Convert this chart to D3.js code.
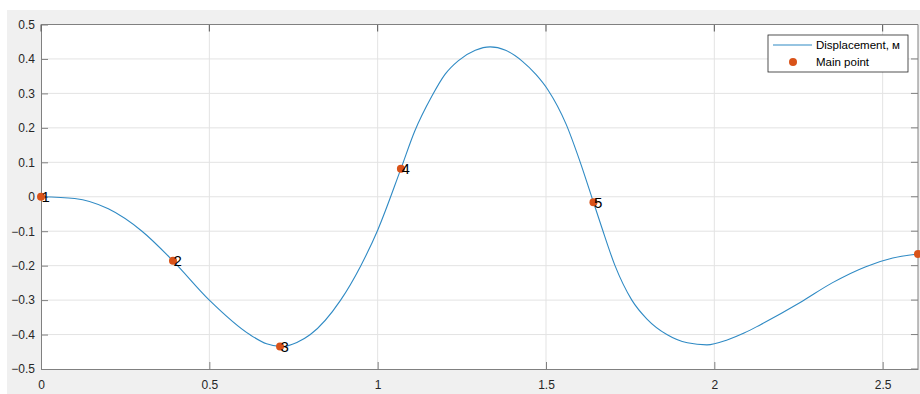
<!DOCTYPE html>
<html>
<head>
<meta charset="utf-8">
<script src="https://cdn.jsdelivr.net/npm/d3@7"></script>
<style>
  body { margin: 0; background: #fff; }
  svg { display: block; font-family: "Liberation Sans", Arial, sans-serif; }
</style>
</head>
<body>
<div id="chart"></div>
<script>
// displacement curve
const curveT = [0, 0.1, 0.2, 0.3, 0.392, 0.5, 0.62, 0.67, 0.715, 0.76, 0.8, 0.89, 0.95, 1.0, 1.069,
  1.11, 1.16, 1.2, 1.24, 1.29, 1.334, 1.38, 1.43, 1.47, 1.506, 1.56, 1.6, 1.641, 1.666, 1.705, 1.755,
  1.8, 1.859, 1.92, 1.978, 2.04, 2.09, 2.136, 2.255, 2.35, 2.45, 2.53, 2.605];
const curveV = [0, -0.005, -0.035, -0.1, -0.186, -0.3, -0.4, -0.427, -0.435, -0.423, -0.4, -0.3, -0.2,
  -0.097, 0.081, 0.19, 0.29, 0.355, 0.395, 0.425, 0.435, 0.425, 0.393, 0.355, 0.31, 0.21, 0.105,
  -0.016, -0.09, -0.2, -0.3, -0.355, -0.4, -0.424, -0.43, -0.415, -0.395, -0.372, -0.307, -0.25,
  -0.203, -0.178, -0.166];

// main points
const pointT = [0, 0.392, 0.71, 1.069, 1.641, 2.605];
const pointV = [0, -0.186, -0.435, 0.081, -0.016, -0.166];
const pointLabels = ['1', '2', '3', '4', '5', ''];

const xTicks = [0, 0.5, 1, 1.5, 2, 2.5];
const yTicks = [-0.5, -0.4, -0.3, -0.2, -0.1, 0, 0.1, 0.2, 0.3, 0.4, 0.5];
const legendLabels = ['Displacement, м', 'Main point'];

const width = 920;
const height = 394;
const margin = { top: 24.5, right: 2, bottom: 25, left: 41 };
const blue = '#2f8ac4';
const orange = '#d95319';

const svg = d3.select('#chart').append('svg')
  .attr('width', width)
  .attr('height', height);

// figure background
svg.append('rect')
  .attr('x', 7).attr('y', 10)
  .attr('width', width - 7).attr('height', height - 10)
  .attr('fill', '#f0f0f0');

const x = d3.scaleLinear().domain([0, 2.605]).range([margin.left, width - margin.right]);
const y = d3.scaleLinear().domain([-0.5, 0.5]).range([height - margin.bottom, margin.top]);

const [x0, x1] = x.range();
const [y0, y1] = y.range();

svg.append('rect')
  .attr('x', x0).attr('y', y1)
  .attr('width', x1 - x0).attr('height', y0 - y1)
  .attr('fill', '#fff');

// grid
svg.append('g').selectAll('line').data(xTicks.slice(1))
  .enter().append('line')
  .attr('x1', d => x(d)).attr('x2', d => x(d))
  .attr('y1', y1).attr('y2', y0)
  .attr('stroke', '#e3e3e3');

svg.append('g').selectAll('line').data(yTicks.slice(1, -1))
  .enter().append('line')
  .attr('x1', x0).attr('x2', x1)
  .attr('y1', d => y(d)).attr('y2', d => y(d))
  .attr('stroke', '#e3e3e3');

// axes (ticks point inward like matlab)
const axisColor = '#808080';
const tickLen = 7;

const bottom = svg.append('g')
  .attr('transform', `translate(0,${y0})`)
  .call(d3.axisBottom(x).tickValues(xTicks).tickFormat(d3.format('')).tickSizeInner(-tickLen).tickSizeOuter(0).tickPadding(11));
const left = svg.append('g')
  .attr('transform', `translate(${x0},0)`)
  .call(d3.axisLeft(y).tickValues(yTicks).tickFormat(d3.format('')).tickSizeInner(-tickLen).tickSizeOuter(0).tickPadding(6));

[bottom, left].forEach(g => {
  g.select('.domain').attr('stroke', axisColor);
  g.selectAll('.tick line').attr('stroke', axisColor);
  g.selectAll('.tick text').attr('fill', '#262626').style('font-size', '12px')
    .style('font-family', '"Liberation Sans", Arial, sans-serif');
});

// top and right ticks
svg.append('g').selectAll('line').data(xTicks)
  .enter().append('line')
  .attr('x1', d => x(d)).attr('x2', d => x(d))
  .attr('y1', y1).attr('y2', y1 + tickLen)
  .attr('stroke', '#555');
svg.append('g').selectAll('line').data(yTicks)
  .enter().append('line')
  .attr('x1', x1 - tickLen).attr('x2', x1)
  .attr('y1', d => y(d)).attr('y2', d => y(d))
  .attr('stroke', axisColor);

svg.append('line')
  .attr('x1', x0).attr('x2', x1).attr('y1', y1).attr('y2', y1)
  .attr('stroke', axisColor);
svg.append('line')
  .attr('x1', x1).attr('x2', x1).attr('y1', y1).attr('y2', y0)
  .attr('stroke', axisColor);

// curve
const line = d3.line()
  .x(d => x(d[0]))
  .y(d => y(d[1]))
  .curve(d3.curveMonotoneX);

svg.append('path')
  .datum(d3.zip(curveT, curveV))
  .attr('d', line)
  .attr('fill', 'none')
  .attr('stroke', blue)
  .attr('stroke-width', 1.1);

// points
const pts = d3.zip(pointT, pointV, pointLabels);

svg.append('g').selectAll('circle').data(pts)
  .enter().append('circle')
  .attr('cx', d => x(d[0]))
  .attr('cy', d => y(d[1]))
  .attr('r', 4)
  .attr('fill', orange);

svg.append('g').selectAll('text').data(pts)
  .enter().append('text')
  .attr('x', d => x(d[0]) + 0.5)
  .attr('y', d => y(d[1]) + 5.5)
  .attr('font-size', 15)
  .attr('fill', '#000')
  .text(d => d[2]);

// legend
const legend = svg.append('g').attr('transform', 'translate(768,35)');
legend.append('rect')
  .attr('width', 140).attr('height', 37)
  .attr('fill', '#fff')
  .attr('stroke', '#262626')
  .attr('stroke-width', 0.8);
legend.append('line')
  .attr('x1', 5).attr('x2', 44).attr('y1', 10).attr('y2', 10)
  .attr('stroke', blue).attr('stroke-width', 1.1);
legend.append('circle')
  .attr('cx', 25).attr('cy', 27).attr('r', 4)
  .attr('fill', orange);
legend.selectAll('text.lbl').data(legendLabels)
  .enter().append('text')
  .attr('class', 'lbl')
  .attr('x', 48)
  .attr('y', (d, i) => 14 + i * 17)
  .attr('font-size', 11.5)
  .attr('fill', '#000')
  .text(d => d);
</script>
</body>
</html>
